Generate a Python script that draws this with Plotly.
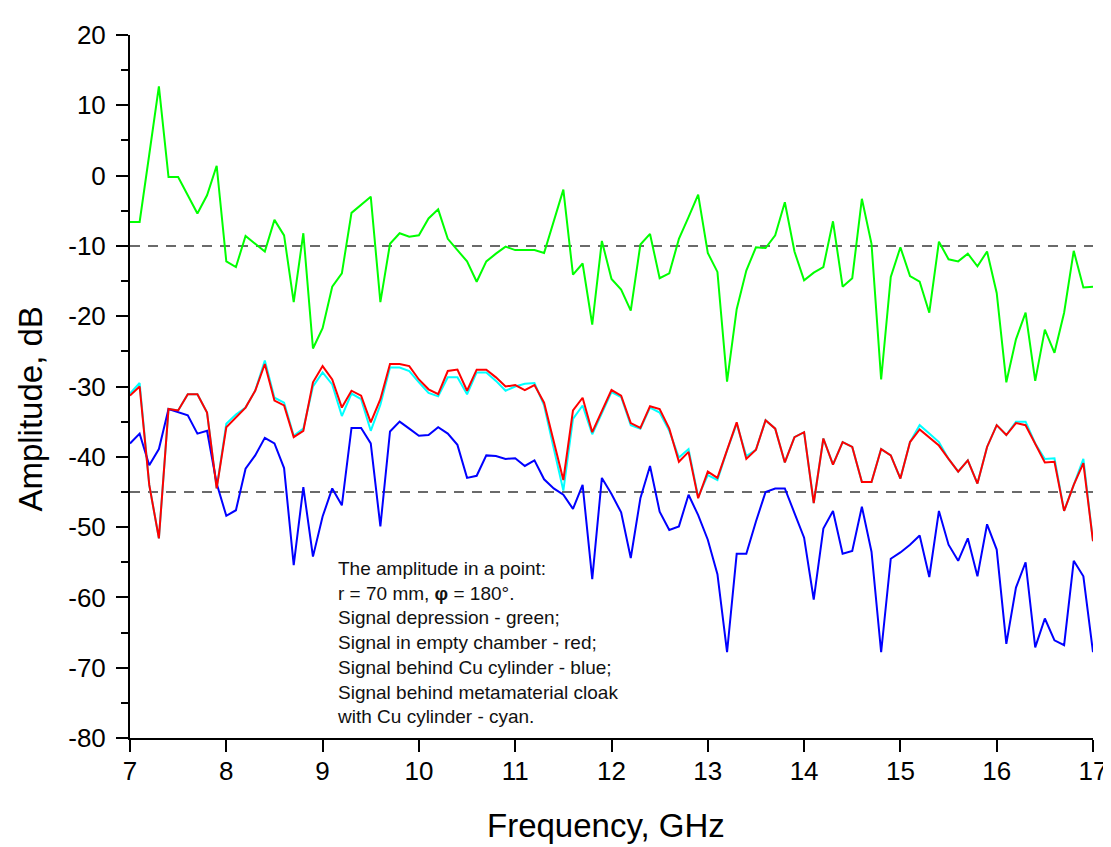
import plotly.graph_objects as go

# ---------------- data ----------------
freq = [round(7 + 0.1 * i, 1) for i in range(101)]

green = [
    -6.6, -6.6, 3.0, 12.7, -0.2, -0.2, -2.8, -5.4, -2.8, 1.4,
    -12.2, -13.0, -8.6, -9.7, -10.8, -6.3, -8.5, -18.0, -8.2, -24.6,
    -21.7, -15.8, -13.9, -5.3, -4.2, -3.0, -18.0, -9.7, -8.2, -8.7,
    -8.5, -6.1, -4.8, -9.0, -10.6, -12.2, -15.1, -12.2, -11.1, -10.1,
    -10.6, -10.6, -10.6, -11.0, -6.4, -2.0, -14.1, -12.5, -21.2, -9.3,
    -14.7, -16.2, -19.2, -9.8, -8.3, -14.6, -13.9, -9.0, -5.9, -2.7,
    -11.0, -13.7, -29.3, -19.0, -13.5, -10.2, -10.3, -8.5, -3.8, -10.8,
    -14.9, -13.8, -13.0, -6.5, -15.8, -14.6, -3.3, -9.7, -29.0, -14.4,
    -10.2, -14.3, -15.1, -19.5, -9.4, -11.9, -12.2, -11.1, -12.9, -10.8,
    -16.7, -29.4, -23.3, -19.5, -29.2, -21.9, -25.2, -19.5, -10.7, -15.9,
    -15.8,
]

red = [
    -31.3, -30.0, -44.0, -51.6, -33.2, -33.4, -31.1, -31.1, -33.7, -44.5,
    -35.8, -34.4, -33.0, -30.6, -26.8, -32.0, -32.7, -37.2, -36.3, -29.4,
    -27.1, -29.0, -33.0, -30.6, -31.3, -35.1, -31.8, -26.8, -26.8, -27.1,
    -29.0, -30.4, -31.1, -27.8, -27.6, -30.6, -27.6, -27.6, -28.7, -30.0,
    -29.8, -30.5, -29.8, -32.3, -37.9, -43.3, -33.4, -31.6, -36.5, -33.4,
    -30.5, -31.3, -35.2, -35.9, -32.8, -33.2, -36.0, -40.7, -39.3, -45.9,
    -42.1, -43.0, -38.9, -35.1, -40.3, -39.0, -34.8, -36.0, -40.8, -37.2,
    -36.5, -46.6, -37.4, -41.1, -37.9, -38.6, -43.6, -43.6, -38.9, -39.8,
    -43.1, -37.9, -36.1, -37.2, -38.4, -40.3, -42.1, -40.5, -43.8, -38.6,
    -35.5, -36.9, -35.2, -35.5, -38.1, -40.8, -40.7, -47.7, -44.0, -40.9,
    -52.0,
]

cyan = [
    -31.0, -29.5, -44.0, -51.6, -33.2, -33.4, -31.1, -31.1, -33.7, -44.5,
    -35.3, -34.0, -33.0, -30.6, -26.3, -31.6, -32.3, -37.0, -36.0, -30.0,
    -28.0, -29.7, -34.2, -31.0, -31.8, -36.3, -32.6, -27.3, -27.3, -27.8,
    -29.4, -30.9, -31.4, -28.7, -28.7, -31.1, -28.0, -28.0, -29.2, -30.6,
    -30.0, -29.6, -29.5, -32.7, -38.8, -44.8, -34.6, -32.7, -36.8, -33.7,
    -30.8, -31.5, -35.5, -36.0, -33.0, -33.7, -36.3, -40.1, -38.9, -45.7,
    -42.6, -43.3, -39.1, -35.3, -39.9, -39.0, -34.8, -36.0, -40.8, -37.2,
    -36.5, -46.6, -37.4, -41.1, -37.9, -38.6, -43.6, -43.6, -38.9, -39.8,
    -43.1, -37.9, -35.5, -36.7, -37.9, -40.3, -42.1, -40.5, -43.8, -38.6,
    -35.5, -36.9, -35.0, -35.0, -38.1, -40.3, -40.2, -47.7, -44.0, -40.3,
    -52.0,
]

blue = [
    -38.1, -36.7, -41.2, -38.9, -33.2, -33.7, -34.1, -36.7, -36.3, -43.8,
    -48.4, -47.6, -41.7, -39.8, -37.3, -38.1, -41.6, -55.4, -44.3, -54.2,
    -48.5, -44.5, -46.9, -35.9, -35.9, -38.1, -49.9, -36.4, -35.0, -36.0,
    -37.0, -36.9, -35.8, -36.7, -38.3, -43.0, -42.7, -39.8, -39.9, -40.3,
    -40.2, -41.3, -40.5, -43.2, -44.5, -45.4, -47.4, -44.0, -57.4, -43.0,
    -45.3, -47.9, -54.4, -45.9, -41.3, -47.8, -50.4, -49.9, -45.4, -48.3,
    -51.8, -56.7, -67.8, -53.8, -53.8, -49.2, -45.0, -44.5, -44.5, -48.0,
    -51.5, -60.3, -50.2, -47.7, -53.8, -53.4, -47.1, -53.5, -67.8, -54.5,
    -53.6, -52.5, -51.2, -57.1, -47.7, -52.5, -54.8, -51.6, -57.0, -49.6,
    -53.2, -66.6, -58.6, -55.0, -67.1, -63.0, -66.1, -66.8, -54.8, -57.0,
    -67.8,
]

ref_levels = [-10, -45]

x_ticks = [7, 8, 9, 10, 11, 12, 13, 14, 15, 16, 17]
x_tick_labels = ["7", "8", "9", "10", "11", "12", "13", "14", "15", "16", "17"]
y_ticks = [20, 10, 0, -10, -20, -30, -40, -50, -60, -70, -80]
y_tick_labels = ["20", "10", "0", "-10", "-20", "-30", "-40", "-50", "-60", "-70", "-80"]

note_lines = [
    "The amplitude in a point:",
    "r = 70 mm, <b>φ</b> = 180°.",
    "Signal depression - green;",
    "Signal in empty chamber - red;",
    "Signal behind Cu cylinder - blue;",
    "Signal behind metamaterial cloak",
    "with Cu cylinder - cyan.",
]

x_title = "Frequency, GHz"
y_title = "Amplitude, dB"

# ---------------- figure ----------------
FONT = "Arial, 'Liberation Sans', sans-serif"

fig = go.Figure()
for name, ys, color in [
    ("cyan", cyan, "#00ffff"),
    ("blue", blue, "#0000ff"),
    ("green", green, "#00ff00"),
    ("red", red, "#ff0000"),
]:
    fig.add_trace(go.Scatter(x=freq, y=ys, mode="lines", name=name,
                             line=dict(color=color, width=2), showlegend=False))

for lvl in ref_levels:
    fig.add_shape(type="line", xref="x", yref="y", x0=freq[0], x1=freq[-1],
                  y0=lvl, y1=lvl, line=dict(color="#3a3a3a", width=1.5, dash="10px,8px"),
                  layer="below")

axis_common = dict(showline=True, linecolor="black", linewidth=2, ticks="outside",
                   tickcolor="black", tickwidth=2, showgrid=False, zeroline=False,
                   tickfont=dict(family=FONT, size=26, color="black"), mirror=False)

fig.update_xaxes(range=[7, 17], tickmode="array", tickvals=x_ticks, ticktext=x_tick_labels,
                 ticklen=12, ticklabelstandoff=-3, **axis_common)
fig.update_yaxes(range=[-80, 20], tickmode="array", tickvals=y_ticks, ticktext=y_tick_labels,
                 ticklen=12, ticklabelstandoff=5,
                 minor=dict(tickmode="linear", tick0=-80, dtick=5, ticks="outside",
                            ticklen=7, tickwidth=2, tickcolor="black", showgrid=False),
                 **axis_common)

fig.add_annotation(xref="paper", yref="paper", x=0.2124, y=0.2585, xanchor="left",
                   yanchor="top", align="left", showarrow=False,
                   text="<br>".join(note_lines),
                   font=dict(family=FONT, size=19, color="#111111"))

fig.add_annotation(xref="paper", yref="paper", x=0.494, y=-0.124, xanchor="center",
                   yanchor="middle", showarrow=False, text=x_title,
                   font=dict(family=FONT, size=33, color="black"))
fig.add_annotation(xref="paper", yref="paper", x=-0.1036, y=0.4675, xanchor="center",
                   yanchor="middle", showarrow=False, text=y_title, textangle=-90,
                   font=dict(family=FONT, size=33, color="black"))

fig.update_layout(width=1111, height=847, margin=dict(l=122, r=24, t=22, b=117),
                  paper_bgcolor="white", plot_bgcolor="white", showlegend=False)

fig.write_html("out.html")
